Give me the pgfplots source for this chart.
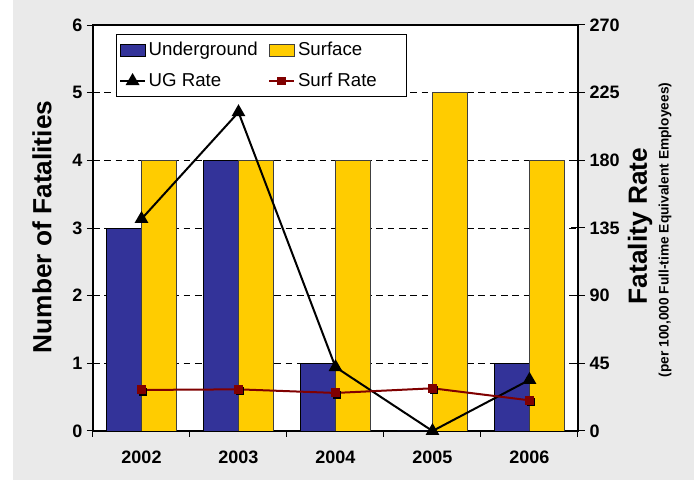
\documentclass[border=0pt]{standalone}
\usepackage{fontspec}
\setmainfont{Liberation Sans}
\usepackage{pgfplots}
\usepackage{pgfplotstable}
\pgfplotsset{compat=1.18}

\definecolor{ugblue}{HTML}{333399}
\definecolor{surfgold}{HTML}{FFCC00}
\definecolor{surfred}{HTML}{800000}
\definecolor{bggray}{HTML}{EAEAEA}

\pgfplotstableread{
x ug surf ugrate surfrate
0 3 4 141 27.3
1 4 4 212 27.7
2 1 4 42.5 25.3
3 0 5 0 28.4
4 1 4 34 20.4
}\datatable

\pgfplotsset{
  barlegend/.style={legend image code/.code={\draw[##1] (0pt,-4.5pt) rectangle (18.75pt,4.5pt);}},
  linelegend/.style={legend image code/.code={\draw[mark repeat=2,mark phase=2,##1] plot coordinates {(0pt,0pt) (9.4pt,0pt) (18.75pt,0pt)};}},
  tlab/.style={font=\fontsize{13.5}{15}\selectfont\bfseries},
}

\begin{document}
\begin{tikzpicture}
\fill[white] (-69.75pt,-38.25pt) rectangle (450.75pt,323.25pt);
\fill[bggray] (-60pt,-36.75pt) rectangle (450.75pt,323.25pt);
\useasboundingbox (-69.75pt,-38.25pt) rectangle (450.75pt,323.25pt);

\begin{axis}[
    scale only axis, width=363.75pt, height=304.5pt,
    xmin=-0.5, xmax=4.5, ymin=0, ymax=6,
    ybar=0pt, bar width=26.25pt,
    xtick={-0.5,0.5,...,4.5}, x tick label as interval,
    xticklabels={2002,2003,2004,2005,2006},
    ytick={0,...,6},
    xtick pos=bottom, ytick pos=left,
    tick align=outside, major tick length=4.5pt,
    tick style={black, line width=0.75pt},
    ymajorgrids, grid style={black, dash pattern=on 5pt off 3.5pt, line width=0.6pt},
    axis line style={line width=1pt},
    ticklabel style={tlab},
    xticklabel style={yshift=-7pt},
    /pgf/number format/assume math mode=true,
    axis background/.style={fill=white},
]
\addplot[fill=ugblue, draw=black, line width=0.5pt] table[x=x, y=ug] {\datatable};
\addplot[fill=surfgold, draw=black!75, line width=0.5pt] table[x=x, y=surf] {\datatable};
\end{axis}

\begin{axis}[
    scale only axis, width=363.75pt, height=304.5pt,
    xmin=-0.5, xmax=4.5, ymin=0, ymax=270,
    axis x line=none, axis y line*=right,
    ytick={0,45,...,270},
    tick align=center, major tick length=10.5pt,
    tick style={black, line width=0.75pt},
    axis line style={line width=1pt, -},
    ticklabel style={tlab},
    /pgf/number format/assume math mode=true,
    clip=false,
    legend columns=2,
    legend cell align=left,
    legend style={at={(0.0474,0.9778)}, anchor=north west,
        draw=black, fill=white, line width=0.6pt,
        font=\fontsize{14}{16}\selectfont,
        inner xsep=2pt, inner ysep=4pt, row sep=7.5pt,
        /tikz/every even column/.append style={column sep=6pt}},
]
\addlegendimage{barlegend, fill=ugblue, draw=black, line width=0.5pt}
\addlegendentry{Underground}
\addlegendimage{barlegend, fill=surfgold, draw=black!75, line width=0.5pt}
\addlegendentry{\makebox[77pt][l]{Surface}}
\addplot[linelegend, black, line width=1.5pt, mark=triangle*, mark size=4.5pt,
    mark options={solid}] table[x=x, y=ugrate] {\datatable};
\addlegendentry{UG Rate}
\addplot[forget plot, only marks, black, mark=square*, mark size=2.6pt,
    xshift=1.2pt, yshift=-1.2pt] table[x=x, y=surfrate] {\datatable};
\addplot[linelegend, surfred, line width=1.5pt, mark=square*, mark size=2.6pt]
    table[x=x, y=surfrate] {\datatable};
\addlegendentry{\makebox[77pt][l]{Surf Rate}}
\end{axis}

\node[rotate=90, font=\fontsize{19.7}{23}\selectfont\bfseries] at (-38.25pt,153pt) {Number of Fatalities};
\node[rotate=90, font=\fontsize{19.7}{23}\selectfont\bfseries] at (410.25pt,153.75pt) {Fatality Rate};
\node[rotate=90, font=\fontsize{10.3}{12}\selectfont\bfseries] at (429pt,150.75pt) {(per 100,000 Full-time Equivalent Employees)};
\end{tikzpicture}
\end{document}
